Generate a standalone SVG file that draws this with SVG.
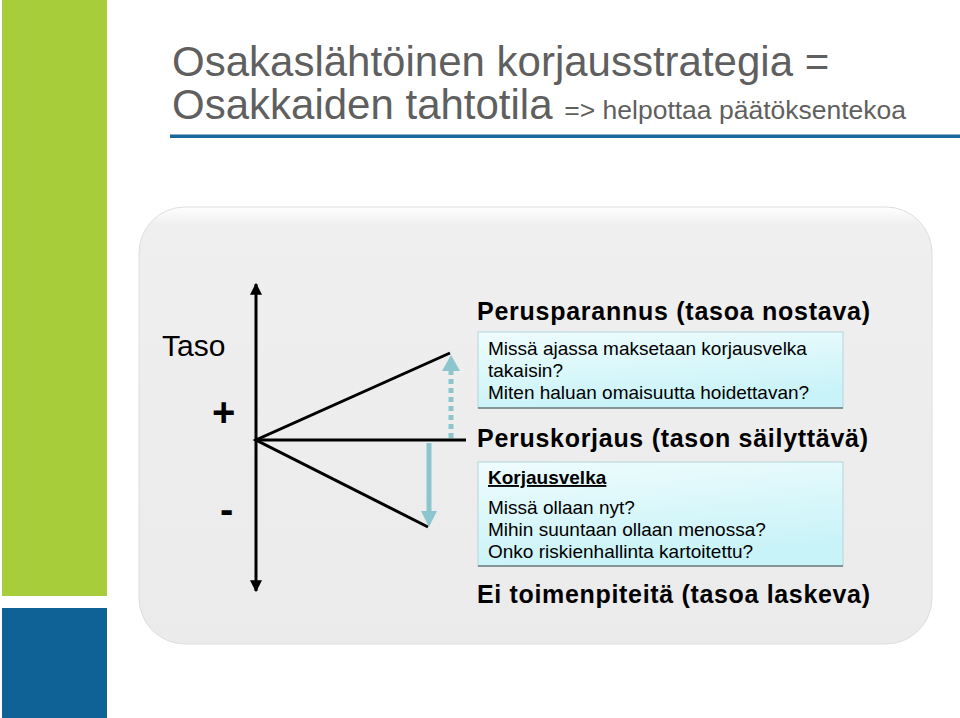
<svg xmlns="http://www.w3.org/2000/svg" width="960" height="718" viewBox="0 0 960 718">
<style>
.title{font-family:"Liberation Sans",Arial,sans-serif;fill:#5f5f5f}
.head{font-family:"Liberation Sans",Arial,sans-serif;font-weight:bold;font-size:25px;fill:#000}
.body{font-family:"Liberation Sans",Arial,sans-serif;font-size:19px;fill:#000}
.axis{stroke:#000;stroke-width:3;fill:none}
.teal{stroke:#8cc6cd;stroke-width:5;fill:none}
</style>
<defs>
<linearGradient id="panelG" x1="0" y1="0" x2="0" y2="1">
<stop offset="0" stop-color="#ffffff"/>
<stop offset="0.04" stop-color="#efefef"/>
<stop offset="1" stop-color="#ebebeb"/>
</linearGradient>
<linearGradient id="boxG" x1="0" y1="0" x2="0.3" y2="1">
<stop offset="0" stop-color="#effcfd"/>
<stop offset="1" stop-color="#c8f3f8"/>
</linearGradient>
<marker id="blackHead" viewBox="0 0 10 10" refX="9" refY="5" markerWidth="4" markerHeight="4" orient="auto-start-reverse" markerUnits="strokeWidth">
<path d="M0,0 L10,5 L0,10 z" fill="#000"/>
</marker>
</defs>
<rect x="0" y="0" width="960" height="718" fill="#fff"/>
<rect x="2" y="0" width="105" height="596" fill="#a8cd3a"/>
<rect x="2" y="608" width="105" height="110" fill="#0f6296"/>
<g id="title">
<text class="title" x="172" y="76" font-size="42">Osakaslähtöinen korjausstrategia =</text>
<text class="title" x="172" y="119" font-size="42">Osakkaiden tahtotila <tspan font-size="26.5">=&gt; helpottaa päätöksentekoa</tspan></text>
<rect x="170" y="134.5" width="790" height="3.5" fill="#17679a"/>
</g>
<g id="panel">
<rect x="139" y="207" width="793" height="437" rx="46" fill="url(#panelG)" stroke="#dedede" stroke-width="1"/>
</g>
<g id="labels">
<text x="162" y="356" font-family="Liberation Sans,Arial,sans-serif" font-size="30" fill="#000">Taso</text>
<text x="212" y="426" font-family="Liberation Sans,Arial,sans-serif" font-size="40" font-weight="bold" fill="#000">+</text>
<text x="220" y="523" font-family="Liberation Sans,Arial,sans-serif" font-size="40" font-weight="bold" fill="#000">-</text>
</g>
<g id="connectors">
<line class="axis" x1="256" y1="591" x2="256" y2="284" marker-end="url(#blackHead)" marker-start="url(#blackHead)"/>
<polyline class="axis" points="450,353 256,440 428,527"/>
<line class="axis" x1="256" y1="440" x2="466" y2="440"/>
<line class="teal" x1="451" y1="438" x2="451" y2="370" stroke-dasharray="5,4"/>
<polygon points="442,371 451,355 460,371" fill="#8cc6cd"/>
<line class="teal" x1="429" y1="443" x2="429" y2="513"/>
<polygon points="421,511 429,527 437,511" fill="#8cc6cd"/>
</g>
<g id="perusparannus">
<text class="head" x="477" y="320" textLength="393" lengthAdjust="spacing">Perusparannus (tasoa nostava)</text>
<rect x="478" y="332" width="365" height="76" fill="url(#boxG)" stroke="#b6d6da" stroke-width="1"/>
<line x1="478" y1="408" x2="843" y2="408" stroke="#6d7a7c" stroke-width="1.5"/>
<text class="body" x="488" y="355">Missä ajassa maksetaan korjausvelka</text>
<text class="body" x="488" y="377">takaisin?</text>
<text class="body" x="488" y="399">Miten haluan omaisuutta hoidettavan?</text>
</g>
<g id="peruskorjaus">
<text class="head" x="477" y="447" textLength="391" lengthAdjust="spacing">Peruskorjaus (tason säilyttävä)</text>
<rect x="478" y="462" width="365" height="104" fill="url(#boxG)" stroke="#b6d6da" stroke-width="1"/>
<line x1="478" y1="566" x2="843" y2="566" stroke="#6d7a7c" stroke-width="1.5"/>
<text class="body" x="488" y="484" font-weight="bold" text-decoration="underline">Korjausvelka</text>
<text class="body" x="488" y="514">Missä ollaan nyt?</text>
<text class="body" x="488" y="536">Mihin suuntaan ollaan menossa?</text>
<text class="body" x="488" y="558">Onko riskienhallinta kartoitettu?</text>
</g>
<g id="ei-toimenpiteita">
<text class="head" x="477" y="603" font-size="26" textLength="393" lengthAdjust="spacing">Ei toimenpiteitä (tasoa laskeva)</text>
</g>
</svg>
